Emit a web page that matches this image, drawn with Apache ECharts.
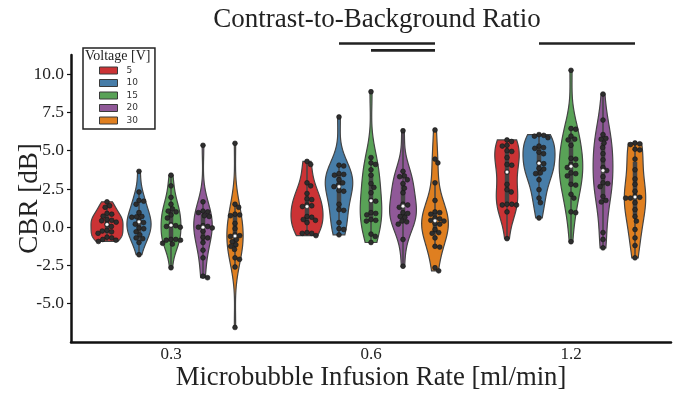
<!DOCTYPE html>
<html>
<head>
<meta charset="utf-8">
<script src="https://cdn.jsdelivr.net/npm/echarts@6/dist/echarts.min.js"></script>
<style>
  html, body { margin: 0; padding: 0; background: #fff; }
  #plot { width: 683px; height: 394px; }
</style>
</head>
<body>
<div id="plot"></div>
<script>
var rates = ['0.3', '0.6', '1.2'];
var voltages = ['5', '10', '15', '20', '30'];
var colors = ['#cb3335', '#477da8', '#59a257', '#905998', '#df7f20'];

var cbr03_5 = [1.66, 1.4, 1.3, 0.9, 0.85, 0.72, 0.5, 0.45, 0.42, 0.33, 0.18, 0.05, -0.2, -0.25, -0.3, -0.4, -0.65, -0.7, -0.8, -0.85, -0.93];
var cbr03_10 = [3.65, 2.3, 1.75, 1.7, 1.5, 0.95, 0.7, 0.68, 0.65, 0.4, 0.3, 0.2, -0.05, -0.1, -0.3, -0.5, -0.7, -0.75, -1.0, -1.8];
var cbr03_15 = [3.4, 2.7, 1.95, 1.5, 1.2, 1.05, 1.0, 0.8, 0.6, 0.15, 0.1, 0.05, 0.0, -0.8, -0.8, -0.85, -0.85, -1.05, -1.1, -2.65];
var cbr03_20 = [5.35, 1.66, 1.05, 1.0, 0.95, 0.75, 0.7, 0.1, 0.05, 0.0, -0.05, -0.26, -0.65, -0.7, -1.0, -1.5, -2.0, -3.2, -3.3];
var cbr03_30 = [5.48, 1.5, 1.3, 0.85, 0.8, 0.75, 0.25, -0.1, -0.5, -0.55, -0.6, -0.8, -0.95, -1.15, -1.25, -1.45, -2.0, -2.1, -2.6, -6.55];

var cbr06_5 = [4.3, 4.1, 2.9, 2.7, 2.2, 1.85, 1.8, 1.45, 1.4, 1.35, 0.7, 0.65, 0.5, 0.45, 0.3, -0.35, -0.4, -0.4, -0.55];
var cbr06_10 = [7.2, 4.05, 4.0, 3.5, 3.45, 3.4, 3.1, 2.9, 2.75, 2.65, 2.4, 2.35, 1.5, 1.15, 1.1, 0.3, -0.1, -0.15, -0.5];
var cbr06_15 = [8.85, 4.55, 4.2, 4.1, 3.75, 3.4, 2.85, 2.6, 2.25, 1.75, 1.7, 0.95, 0.9, 0.8, 0.5, 0.45, 0.4, -0.45, -0.6, -1.0];
var cbr06_20 = [6.3, 3.65, 3.35, 3.3, 3.1, 2.85, 2.55, 2.25, 1.5, 1.45, 1.3, 0.95, 0.9, 0.7, 0.65, 0.4, 0.35, 0.2, -0.8, -2.55];
var cbr06_30 = [6.35, 4.45, 4.2, 2.9, 1.75, 1.0, 0.95, 0.85, 0.6, 0.55, 0.45, 0.4, 0.25, 0.2, -0.15, -0.35, -0.4, -0.7, -1.25, -1.3, -2.65, -2.85];

var cbr12_5 = [5.7, 5.6, 5.35, 5.3, 5.0, 4.95, 4.55, 4.1, 4.05, 3.6, 2.8, 2.45, 2.3, 1.5, 1.5, 1.45, 1.45, 1.0, -0.75];
var cbr12_10 = [6.05, 6.0, 5.95, 5.85, 5.3, 5.2, 5.15, 4.9, 4.8, 4.2, 4.15, 3.85, 3.8, 3.55, 3.5, 3.1, 2.45, 1.9, 1.6, 0.6];
var cbr12_15 = [10.25, 6.45, 6.4, 5.95, 5.75, 5.7, 5.35, 4.5, 4.45, 4.1, 4.05, 3.9, 3.55, 3.5, 3.35, 2.8, 2.75, 2.15, 1.9, 1.0, 0.95, -0.95];
var cbr12_20 = [8.7, 7.0, 6.05, 5.8, 5.75, 5.5, 5.2, 4.8, 4.4, 3.9, 3.7, 3.3, 2.9, 2.85, 2.65, 2.0, 1.75, 1.65, -0.35, -0.8, -1.35];
var cbr12_30 = [5.5, 5.45, 5.4, 5.1, 5.05, 4.45, 3.75, 3.15, 2.8, 2.35, 2.0, 1.95, 1.9, 1.9, 1.6, 1.15, 0.7, 0.4, -0.15, -0.7, -1.2, -2.0];

var cbrData = [
  [cbr03_5, cbr03_10, cbr03_15, cbr03_20, cbr03_30],
  [cbr06_5, cbr06_10, cbr06_15, cbr06_20, cbr06_30],
  [cbr12_5, cbr12_10, cbr12_15, cbr12_20, cbr12_30]
];

// significance bars: rate index, from voltage index, to voltage index, height [dB]
var sigRate = [1, 1, 2];
var sigFrom = [1, 2, 1];
var sigTo = [4, 4, 4];
var sigLevel = [12.0, 11.55, 12.0];

var gray = '#444';
var serif = 'Liberation Serif';

// gaussian kde (scott), cut at data range
function kde(values) {
  var n = values.length;
  var mean = values.reduce((a, b) => a + b, 0) / n;
  var sd = Math.sqrt(values.reduce((a, b) => a + (b - mean) * (b - mean), 0) / (n - 1));
  var bw = sd * Math.pow(n, -0.2);
  var lo = Math.min.apply(null, values), hi = Math.max.apply(null, values);
  var out = [];
  for (var i = 0; i < 100; i++) {
    var y = lo + (hi - lo) * i / 99;
    var d = 0;
    values.forEach(function (v) {
      var z = (y - v) / bw;
      d += Math.exp(-0.5 * z * z);
    });
    out.push([y, d / (n * bw * Math.sqrt(2 * Math.PI))]);
  }
  return out;
}

function percentile(values, p) {
  var s = values.slice().sort((a, b) => a - b);
  var pos = (s.length - 1) * p;
  var i = Math.floor(pos);
  var f = pos - i;
  return i + 1 < s.length ? s[i] + f * (s[i + 1] - s[i]) : s[i];
}

var densities = cbrData.map(g => g.map(kde));
// area scaling within each rate
var groupMax = densities.map(g => Math.max.apply(null, g.map(d => Math.max.apply(null, d.map(p => p[1])))));

function swarm(ys, diam) {
  var order = ys.map((y, i) => i).sort((a, b) => ys[a] - ys[b]);
  var placed = [];
  var offs = new Array(ys.length);
  order.forEach(function (i) {
    var y = ys[i];
    var cands = [0];
    placed.forEach(function (p) {
      var dy = y - p[1];
      if (Math.abs(dy) < diam) {
        var dx = Math.sqrt(diam * diam - dy * dy);
        cands.push(p[0] + dx, p[0] - dx);
      }
    });
    cands.sort((a, b) => Math.abs(a) - Math.abs(b));
    for (var k = 0; k < cands.length; k++) {
      var c = cands[k];
      var ok = placed.every(function (p) {
        var dx = c - p[0], dy = y - p[1];
        return dx * dx + dy * dy >= diam * diam - 1e-6;
      });
      if (ok) {
        offs[i] = c;
        placed.push([c, y]);
        break;
      }
    }
  });
  return offs;
}

function makeRender(h) {
  return function (params, api) {
    var r = params.dataIndex;
    var vals = cbrData[r][h];
    var bandW = api.size([1, 0])[0];
    var cx = api.coord([r, 0])[0] + (h - 2) * 0.16 * bandW;
    var halfMax = 0.08 * bandW;
    var dens = densities[r][h];
    var right = [], left = [];
    dens.forEach(function (p) {
      var py = api.coord([r, p[0]])[1];
      var w = halfMax * p[1] / groupMax[r];
      right.push([cx + w, py]);
      left.unshift([cx - w, py]);
    });
    var children = [{
      type: 'polygon',
      shape: { points: right.concat(left) },
      style: { fill: colors[h], stroke: gray, lineWidth: 1.2 }
    }];
    var q25 = percentile(vals, 0.25), q50 = percentile(vals, 0.5), q75 = percentile(vals, 0.75);
    var lim = 1.5 * (q75 - q25);
    var h1 = Math.min.apply(null, vals.filter(v => v >= q25 - lim));
    var h2 = Math.max.apply(null, vals.filter(v => v <= q75 + lim));
    children.push({
      type: 'line',
      shape: { x1: cx, y1: api.coord([r, h1])[1], x2: cx, y2: api.coord([r, h2])[1] },
      style: { stroke: gray, lineWidth: 1.5 }
    });
    children.push({
      type: 'line',
      shape: { x1: cx, y1: api.coord([r, q25])[1], x2: cx, y2: api.coord([r, q75])[1] },
      style: { stroke: gray, lineWidth: 4.5 }
    });
    var ys = vals.map(v => api.coord([r, v])[1]);
    var offs = swarm(ys, 4.8);
    ys.forEach(function (py, i) {
      children.push({
        type: 'circle',
        shape: { cx: cx + offs[i], cy: py, r: 2.4 },
        style: { fill: '#2e2e2e', stroke: '#151515', lineWidth: 0.6 }
      });
    });
    children.push({
      type: 'circle',
      shape: { cx: cx, cy: api.coord([r, q50])[1], r: 1.8 },
      style: { fill: '#fff', stroke: gray, lineWidth: 0.4 }
    });
    return { type: 'group', children: children };
  };
}

var series = voltages.map(function (v, h) {
  return {
    name: v,
    type: 'custom',
    itemStyle: { color: colors[h] },
    renderItem: makeRender(h),
    data: rates.map((r, i) => [i, percentile(cbrData[i][h], 0.5)]),
    encode: { x: 0, y: 1 }
  };
});

series.push({
  type: 'custom',
  clip: false,
  silent: true,
  renderItem: function (params, api) {
    var i = params.dataIndex;
    var bandW = api.size([1, 0])[0];
    var base = api.coord([sigRate[i], sigLevel[i]]);
    return {
      type: 'line',
      shape: {
        x1: base[0] + (sigFrom[i] - 2) * 0.16 * bandW, y1: base[1],
        x2: base[0] + (sigTo[i] - 2) * 0.16 * bandW, y2: base[1]
      },
      style: { stroke: '#222', lineWidth: 2.6 }
    };
  },
  data: sigRate.map((r, i) => [r, sigLevel[i]]),
  encode: { x: 0, y: 1 }
});

var myChart = echarts.init(document.getElementById('plot'));

var option = {
  animation: false,
  title: {
    text: 'Contrast-to-Background Ratio',
    left: 372,
    top: 1,
    textAlign: 'center',
    textStyle: { fontFamily: serif, fontSize: 27, fontWeight: 'normal', color: '#222' }
  },
  legend: {
    data: voltages,
    orient: 'vertical',
    left: 83,
    top: 48,
    padding: [18, 17, 4, 16],
    itemWidth: 18,
    itemHeight: 7,
    itemGap: 3.5,
    icon: 'rect',
    itemStyle: { borderColor: '#3a3a3a', borderWidth: 1 },
    borderColor: '#222',
    borderWidth: 1.5,
    textStyle: { fontFamily: 'DejaVu Sans', fontSize: 9, color: '#333', padding: [0, 0, 0, 4] }
  },
  graphic: [{
    type: 'text',
    left: 85,
    top: 49,
    style: { text: 'Voltage [V]', font: '14px "Liberation Serif"', fill: '#222' }
  }],
  grid: { left: 71, right: 12, top: 55, bottom: 52, containLabel: false, outerBoundsMode: 'none' },
  xAxis: {
    type: 'category',
    data: rates,
    name: 'Microbubble Infusion Rate [ml/min]',
    nameLocation: 'middle',
    nameGap: 22,
    nameMoveOverlap: false,
    nameTextStyle: { fontFamily: serif, fontSize: 26.7, color: '#222' },
    axisLine: { onZero: false, lineStyle: { color: '#111', width: 2.5 } },
    axisTick: { alignWithLabel: true, length: 4, lineStyle: { color: '#111', width: 1.2 } },
    axisLabel: { fontFamily: serif, fontSize: 17, color: '#222', margin: 4 },
    splitLine: { show: false }
  },
  yAxis: {
    type: 'value',
    min: -7.5,
    max: 11.25,
    interval: 2.5,
    name: 'CBR [dB]',
    nameLocation: 'middle',
    nameGap: 28,
    nameRotate: 90,
    nameMoveOverlap: false,
    nameTextStyle: { fontFamily: serif, fontSize: 27, color: '#222' },
    axisLine: { show: true, lineStyle: { color: '#111', width: 2.5 } },
    axisTick: { show: true, length: 4, lineStyle: { color: '#111', width: 1.2 }, customValues: [-5, -2.5, 0, 2.5, 5, 7.5, 10] },
    axisLabel: {
      fontFamily: serif, fontSize: 17.5, color: '#222', margin: 7,
      customValues: [-5, -2.5, 0, 2.5, 5, 7.5, 10],
      formatter: v => v.toFixed(1)
    },
    splitLine: { show: false }
  },
  series: series
};

myChart.setOption(option);
</script>
</body>
</html>
